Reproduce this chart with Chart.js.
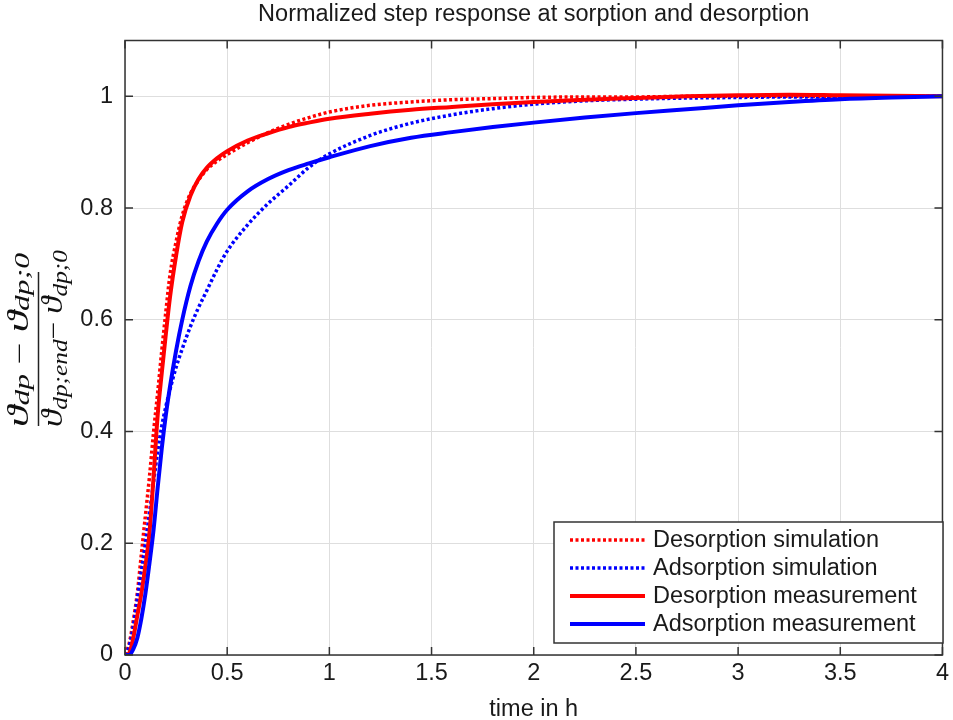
<!DOCTYPE html>
<html><head><meta charset="utf-8">
<script src="https://cdn.jsdelivr.net/npm/chart.js@4.4.0/dist/chart.umd.min.js"></script>
<style>html,body{margin:0;padding:0;background:#fff;} #wrap{width:953px;height:720px;}</style>
</head><body><div id="wrap"><canvas id="c" width="953" height="720"></canvas></div>
<script>
// ---- data ----
const times = [0, 0.02, 0.04, 0.06, 0.08, 0.1, 0.12, 0.14, 0.16, 0.18, 0.2, 0.22, 0.25, 0.28, 0.32, 0.36, 0.4, 0.45, 0.5, 0.6, 0.7, 0.8, 0.9, 1.0, 1.2, 1.4, 1.6, 1.8, 2.0, 2.25, 2.5, 2.75, 3.0, 3.25, 3.5, 3.75, 4.0];
const desorptionSimulation = [0, 0.02, 0.06, 0.11, 0.18, 0.25, 0.32, 0.4, 0.47, 0.545, 0.615, 0.68, 0.74, 0.787, 0.826, 0.85, 0.869, 0.884, 0.896, 0.917, 0.935, 0.95, 0.962, 0.972, 0.984, 0.99, 0.994, 0.996, 0.998, 0.999, 0.999, 1.0, 1.0, 1.0, 1.0, 1.0, 1.0];
const adsorptionSimulation = [0, 0.015, 0.05, 0.1, 0.15, 0.2, 0.255, 0.31, 0.365, 0.41, 0.445, 0.475, 0.515, 0.548, 0.588, 0.622, 0.652, 0.69, 0.723, 0.77, 0.808, 0.84, 0.873, 0.897, 0.93, 0.952, 0.967, 0.978, 0.986, 0.992, 0.995, 0.997, 0.998, 0.999, 0.999, 1.0, 1.0];
const desorptionMeasurement = [0, 0.003, 0.03, 0.07, 0.11, 0.16, 0.22, 0.32, 0.43, 0.505, 0.575, 0.64, 0.715, 0.775, 0.822, 0.852, 0.872, 0.889, 0.902, 0.921, 0.934, 0.945, 0.953, 0.96, 0.969, 0.976, 0.981, 0.986, 0.99, 0.994, 0.997, 1.0, 1.002, 1.003, 1.002, 1.001, 1.0];
const adsorptionMeasurement = [0, 0, 0.01, 0.03, 0.065, 0.11, 0.165, 0.225, 0.3, 0.37, 0.43, 0.48, 0.545, 0.6, 0.66, 0.705, 0.74, 0.772, 0.797, 0.83, 0.852, 0.868, 0.88, 0.891, 0.911, 0.926, 0.936, 0.945, 0.953, 0.962, 0.97, 0.977, 0.984, 0.99, 0.995, 0.998, 1.0];
const xTickValues = [0, 0.5, 1, 1.5, 2, 2.5, 3, 3.5, 4];
const xTickLabels = ['0', '0.5', '1', '1.5', '2', '2.5', '3', '3.5', '4'];
const yTickValues = [0, 0.2, 0.4, 0.6, 0.8, 1];
const yTickLabels = ['0', '0.2', '0.4', '0.6', '0.8', '1'];
const seriesLabels = ['Desorption simulation', 'Adsorption simulation', 'Desorption measurement', 'Adsorption measurement'];
const titleText = 'Normalized step response at sorption and desorption';
const xTitleText = 'time in h';

const pts = arr => times.map((t, i) => ({x: t, y: arr[i]}));
const FONT = '"Liberation Sans", Arial, sans-serif';
const FS = 23.5;
const INK = '#1a1a1a';

const datasets = [
  {label: seriesLabels[0], data: pts(desorptionSimulation), borderColor: '#ff0000', borderWidth: 3.5, borderDash: [3, 2.5], order: 4},
  {label: seriesLabels[1], data: pts(adsorptionSimulation), borderColor: '#0000ff', borderWidth: 3.5, borderDash: [3, 2.5], order: 3},
  {label: seriesLabels[2], data: pts(desorptionMeasurement), borderColor: '#ff0000', borderWidth: 4, order: 2},
  {label: seriesLabels[3], data: pts(adsorptionMeasurement), borderColor: '#0000ff', borderWidth: 4, order: 1}
].map(d => Object.assign({pointRadius: 0, fill: false, cubicInterpolationMode: 'monotone', borderCapStyle: 'butt'}, d));

const framePlugin = {
  id: 'frame',
  afterDatasetsDraw(chart) {
    const {ctx, chartArea: a, scales: {x, y}} = chart;
    ctx.save();
    ctx.strokeStyle = '#333';
    ctx.lineWidth = 1.5;
    ctx.strokeRect(a.left, a.top, a.right - a.left, a.bottom - a.top);
    const L = 8;
    ctx.beginPath();
    xTickValues.forEach(v => {
      const px = x.getPixelForValue(v);
      ctx.moveTo(px, a.bottom); ctx.lineTo(px, a.bottom - L);
      ctx.moveTo(px, a.top); ctx.lineTo(px, a.top + L);
    });
    yTickValues.forEach(v => {
      const py = y.getPixelForValue(v);
      ctx.moveTo(a.left, py); ctx.lineTo(a.left + L, py);
      ctx.moveTo(a.right, py); ctx.lineTo(a.right - L, py);
    });
    ctx.stroke();
    ctx.restore();
  }
};

const legendPlugin = {
  id: 'boxLegend',
  afterDraw(chart) {
    const ctx = chart.ctx;
    const bx = 554, by = 522, bw = 389, bh = 121;
    ctx.save();
    ctx.fillStyle = '#fff';
    ctx.fillRect(bx, by, bw, bh);
    ctx.strokeStyle = '#333';
    ctx.lineWidth = 1.5;
    ctx.strokeRect(bx, by, bw, bh);
    chart.data.datasets.forEach((ds, i) => {
      const cy = 540 + i * 28;
      ctx.beginPath();
      ctx.strokeStyle = ds.borderColor;
      ctx.lineWidth = ds.borderWidth;
      ctx.setLineDash(ds.borderDash || []);
      ctx.moveTo(570, cy); ctx.lineTo(645, cy);
      ctx.stroke();
      ctx.setLineDash([]);
      ctx.fillStyle = INK;
      ctx.font = FS + 'px ' + FONT;
      ctx.textBaseline = 'middle';
      ctx.textAlign = 'left';
      ctx.fillText(ds.label, 653, cy + 1);
    });
    ctx.restore();
  }
};

function drawRow(ctx, segs, startPage, endPage, baseMain, baseSub) {
  let w = 0;
  segs.forEach(s => { ctx.font = s.f; s.w = ctx.measureText(s.t).width; w += s.w; });
  const sx = (startPage - endPage) / w;
  const cy = 340;
  ctx.save();
  ctx.translate(0, cy);
  ctx.rotate(-Math.PI / 2);
  ctx.scale(sx, 1);
  let rx = (cy - startPage) / sx;
  segs.forEach(s => {
    ctx.font = s.f;
    ctx.fillText(s.t, rx, s.sub ? baseSub : baseMain);
    rx += s.w;
  });
  ctx.restore();
}

const yLabelPlugin = {
  id: 'yLabel',
  afterDraw(chart) {
    const ctx = chart.ctx;
    const big = 'italic 29px "Liberation Serif", "DejaVu Serif", serif';
    const mid = '26px "Liberation Serif", "DejaVu Serif", serif';
    const sub = 'italic 21px "Liberation Serif", "DejaVu Serif", serif';
    ctx.save();
    ctx.fillStyle = '#111';
    ctx.textBaseline = 'alphabetic';
    ctx.textAlign = 'left';
    drawRow(ctx, [
      {t: 'ϑ', f: big}, {t: 'dp', f: sub, sub: true}, {t: ' − ', f: mid}, {t: 'ϑ', f: big}, {t: 'dp;0', f: sub, sub: true}
    ], 427, 253, 28, 29);
    drawRow(ctx, [
      {t: 'ϑ', f: big}, {t: 'dp;end', f: sub, sub: true}, {t: '− ', f: mid}, {t: 'ϑ', f: big}, {t: 'dp;0', f: sub, sub: true}
    ], 427, 250, 62, 67);
    ctx.strokeStyle = '#222';
    ctx.lineWidth = 1.5;
    ctx.beginPath();
    ctx.moveTo(38.5, 272); ctx.lineTo(38.5, 426);
    ctx.stroke();
    ctx.restore();
  }
};

new Chart(document.getElementById('c'), {
  type: 'line',
  data: {datasets},
  options: {
    responsive: false,
    animation: false,
    devicePixelRatio: 1,
    layout: {padding: {left: 0, right: 6, top: 0, bottom: 0}},
    plugins: {
      legend: {display: false},
      tooltip: {enabled: false},
      title: {display: true, fullSize: false, text: titleText, color: INK, font: {family: FONT, size: FS, weight: 'normal'}, padding: {top: 0, bottom: 12.3}}
    },
    scales: {
      x: {
        type: 'linear', min: 0, max: 4,
        afterBuildTicks: s => { s.ticks = xTickValues.map(v => ({value: v})); },
        afterFit: s => { s.height = 65; },
        ticks: {callback: (v, i) => xTickLabels[i], color: INK, font: {family: FONT, size: FS}, padding: 4, maxRotation: 0, autoSkip: false},
        grid: {color: '#dedede', lineWidth: 1, drawTicks: false},
        border: {display: false},
        title: {display: true, text: xTitleText, color: INK, font: {family: FONT, size: FS}, padding: {top: 0, bottom: -4}}
      },
      y: {
        type: 'linear', min: 0, max: 1.1,
        afterBuildTicks: s => { s.ticks = yTickValues.map(v => ({value: v})); },
        afterFit: s => { s.width = 125; },
        ticks: {callback: (v, i) => yTickLabels[i], color: INK, font: {family: FONT, size: FS}, padding: 12, autoSkip: false},
        grid: {color: '#dedede', lineWidth: 1, drawTicks: false},
        border: {display: false}
      }
    }
  },
  plugins: [framePlugin, yLabelPlugin, legendPlugin]
});
</script>
</body></html>
